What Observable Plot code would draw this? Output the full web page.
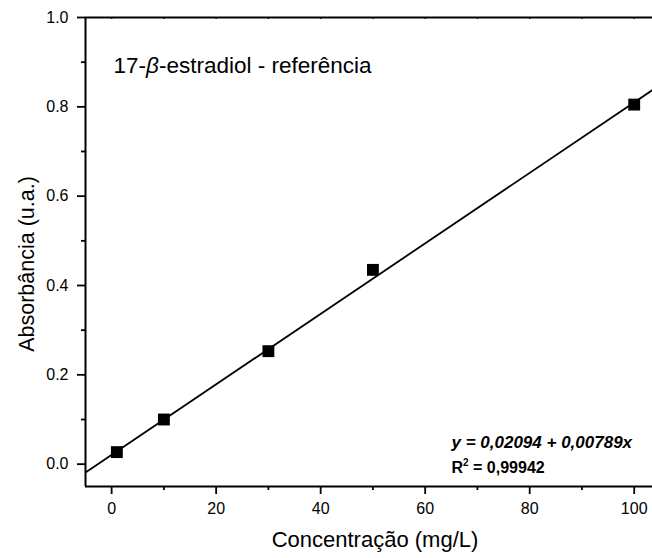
<!DOCTYPE html>
<html>
<head>
<meta charset="utf-8">
<script src="https://cdn.jsdelivr.net/npm/d3@7"></script>
<script src="https://cdn.jsdelivr.net/npm/@observablehq/plot@0.6"></script>
<style>
  html, body { margin: 0; padding: 0; background: #fff; }
  #chart svg { font-family: "Liberation Sans", Arial, sans-serif; display: block; }
</style>
</head>
<body>
<div id="chart"></div>
<script>
// Data
const concentration = [1, 10, 30, 50, 100];
const absorbance = [0.027, 0.100, 0.253, 0.435, 0.805];
const fitIntercept = 0.02094;
const fitSlope = 0.00789;
const xMajorTicks = [0, 20, 40, 60, 80, 100];
const xMinorTicks = [10, 30, 50, 70, 90];
const yMajorTicks = [0, 0.2, 0.4, 0.6, 0.8, 1.0];
const yMinorTicks = [0.1, 0.3, 0.5, 0.7, 0.9];
const xDomain = [-5, 103.5];
const yDomain = [-0.05, 1.0];
const titleText = "17-β-estradiol - referência";
const eqText = "y = 0,02094 + 0,00789x";
const r2Text = "R2 = 0,99942";
const xLabel = "Concentração (mg/L)";
const yLabel = "Absorbância (u.a.)";

const points = concentration.map((c, i) => ({x: c, y: absorbance[i]}));
const fitLine = xDomain.map(x => ({x, y: fitIntercept + fitSlope * x}));

const W = 652, H = 558;
const mL = 85, mT = 17, mB = 72, mR = 0;
const frameH = H - mT - mB;

const plot = Plot.plot({
  width: W,
  height: H,
  marginLeft: mL,
  marginTop: mT,
  marginBottom: mB,
  marginRight: mR,
  style: {fontFamily: '"Liberation Sans", Arial, sans-serif', color: "#000", background: "#fff"},
  x: {domain: xDomain},
  y: {domain: yDomain},
  marks: [
    // frame: left, bottom, top
    Plot.ruleX([xDomain[0]], {stroke: "#000", strokeWidth: 2}),
    Plot.ruleY([yDomain[0]], {stroke: "#000", strokeWidth: 2}),
    Plot.ruleY([yDomain[1]], {stroke: "#000", strokeWidth: 2}),
    // top inward ticks
    Plot.tickX([...xMajorTicks, ...xMinorTicks], {x: d => d, insetBottom: frameH - 2, stroke: "#000", strokeWidth: 1.4}),
    // axes
    Plot.axisX(xMajorTicks, {tickSize: 8, tickPadding: 8, fontSize: 16, label: null, tickFormat: d3.format("d"), strokeWidth: 1.8}),
    Plot.axisX(xMinorTicks, {tickSize: 4, tickFormat: () => "", label: null, strokeWidth: 1.8}),
    Plot.axisY(yMajorTicks, {tickSize: 8, tickPadding: 9, fontSize: 16, label: null, tickFormat: d3.format(".1f"), strokeWidth: 1.8}),
    Plot.axisY(yMinorTicks, {tickSize: 4, tickFormat: () => "", label: null, strokeWidth: 1.8}),
    // fit line
    Plot.line(fitLine, {x: "x", y: "y", stroke: "#000", strokeWidth: 1.8, clip: true}),
    // data points
    Plot.dot(points, {x: "x", y: "y", symbol: "square", r: 6.7, fill: "#000", stroke: null}),
    // annotations
    Plot.text([titleText], {frameAnchor: "top-left", textAnchor: "start", lineAnchor: "bottom", dx: 28, dy: 55, fontSize: 22.5, fill: "#000"}),
    Plot.text([eqText], {frameAnchor: "bottom-left", textAnchor: "start", lineAnchor: "bottom", dx: 366, dy: -39, fontSize: 17, fontWeight: "bold", fontStyle: "italic", fill: "#000"}),
    Plot.text([r2Text], {frameAnchor: "bottom-left", textAnchor: "start", lineAnchor: "bottom", dx: 366, dy: -14, fontSize: 16, fontWeight: "bold", fill: "#000"}),
    // axis labels
    Plot.text([xLabel], {frameAnchor: "bottom", textAnchor: "middle", lineAnchor: "bottom", dx: 6, dy: 60, fontSize: 22, fill: "#000"}),
    Plot.text([yLabel], {frameAnchor: "left", textAnchor: "middle", lineAnchor: "bottom", rotate: -90, dx: -52, dy: 12, fontSize: 21.5, fill: "#000"})
  ]
});

// rich text: italic beta and superscript 2
plot.querySelectorAll("text").forEach(t => {
  if (t.textContent === titleText) {
    t.textContent = "";
    const parts = [["17-", null], ["β", "italic"], ["-estradiol - referência", null]];
    parts.forEach(([s, st]) => {
      const ts = document.createElementNS("http://www.w3.org/2000/svg", "tspan");
      ts.textContent = s;
      if (st) ts.setAttribute("font-style", st);
      t.appendChild(ts);
    });
  } else if (t.textContent === r2Text) {
    t.textContent = "";
    const a = document.createElementNS("http://www.w3.org/2000/svg", "tspan");
    a.textContent = "R";
    const b = document.createElementNS("http://www.w3.org/2000/svg", "tspan");
    b.textContent = "2";
    b.setAttribute("font-size", "10");
    b.setAttribute("dy", "-7");
    const c = document.createElementNS("http://www.w3.org/2000/svg", "tspan");
    c.textContent = " = 0,99942";
    c.setAttribute("dy", "7");
    t.appendChild(a); t.appendChild(b); t.appendChild(c);
  }
});

document.getElementById("chart").appendChild(plot);
</script>
</body>
</html>
